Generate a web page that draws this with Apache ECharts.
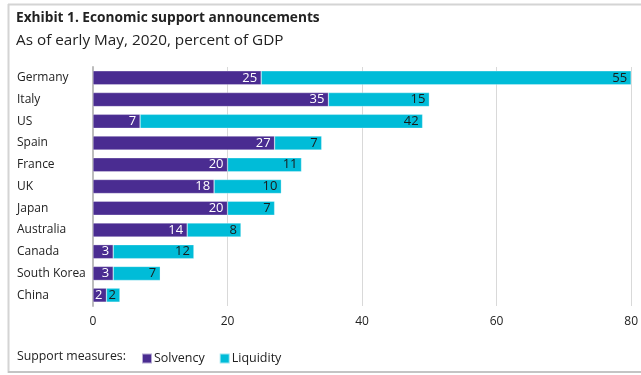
<!DOCTYPE html>
<html>
<head>
<meta charset="utf-8">
<script src="https://cdn.jsdelivr.net/npm/echarts@6/dist/echarts.min.js"></script>
<style>
  html, body { margin: 0; padding: 0; background: #fff; }
  #chart { width: 641px; height: 375px; }
</style>
</head>
<body>
<div id="chart"></div>
<script>
// Economic support announcements by country, percent of GDP
const countries = ['Germany', 'Italy', 'US', 'Spain', 'France', 'UK', 'Japan', 'Australia', 'Canada', 'South Korea', 'China'];
const solvency  = [25, 35, 7, 27, 20, 18, 20, 14, 3, 3, 2];
const liquidity = [55, 15, 42, 7, 11, 10, 7, 8, 12, 7, 2];
const xTicks = [0, 20, 40, 60, 80];

const PURPLE = '#4a2c91';
const CYAN = '#00bcd8';
const FONT = '"Open Sans", "Noto Sans", sans-serif';

const chart = echarts.init(document.getElementById('chart'), null, { renderer: 'canvas' });

chart.setOption({
  animation: false,
  textStyle: { fontFamily: FONT },
  graphic: [
    { type: 'line', shape: { x1: 8.5, y1: 4, x2: 8.5, y2: 373 }, style: { stroke: '#d4d4d4', lineWidth: 2 } },
    { type: 'line', shape: { x1: 8, y1: 4.5, x2: 641, y2: 4.5 }, style: { stroke: '#d4d4d4', lineWidth: 2 } },
    { type: 'line', shape: { x1: 8, y1: 372, x2: 641, y2: 372 }, style: { stroke: '#c4c4c4', lineWidth: 2 } },
    { type: 'text', left: 16, top: 11, style: { text: 'Exhibit 1. Economic support announcements', font: 'bold 13.7px ' + FONT, fill: '#222' } },
    { type: 'text', left: 16, top: 33, style: { text: 'As of early May, 2020, percent of GDP', font: '15.3px ' + FONT, fill: '#222' } },
    { type: 'text', left: 17, top: 350, style: { text: 'Support measures:', font: '12.3px ' + FONT, fill: '#222' } }
  ],
  legend: {
    left: 136,
    top: 347,
    itemWidth: 10,
    itemHeight: 10,
    itemGap: 14,
    icon: 'rect',
    textStyle: { fontFamily: FONT, fontSize: 12.5, color: '#222', padding: [0, 0, 0, -3] },
    data: ['Solvency', 'Liquidity']
  },
  grid: { left: 93, right: 9, top: 67, bottom: 69, containLabel: false },
  xAxis: {
    type: 'value',
    min: xTicks[0],
    max: xTicks[xTicks.length - 1],
    interval: 20,
    axisLine: { show: false },
    axisTick: { show: false },
    splitLine: { show: true, lineStyle: { color: '#d9d9d9', width: 1 } },
    axisLabel: { fontFamily: FONT, fontSize: 12, color: '#222', margin: 10 }
  },
  yAxis: {
    type: 'category',
    data: countries,
    inverse: true,
    axisLine: { show: true, lineStyle: { color: '#bdbdbd', width: 2 } },
    axisTick: { show: false },
    axisLabel: { fontFamily: FONT, fontSize: 12, color: '#222', align: 'left', margin: 76 }
  },
  series: [
    {
      name: 'Solvency',
      type: 'bar',
      stack: 'total',
      data: solvency,
      barWidth: 14,
      itemStyle: { color: PURPLE, borderColor: 'rgba(255,255,255,0.6)', borderWidth: 0.5 },
      label: { show: true, position: 'insideRight', distance: 4, color: '#fff', fontFamily: FONT, fontSize: 13 }
    },
    {
      name: 'Liquidity',
      type: 'bar',
      stack: 'total',
      data: liquidity,
      barWidth: 14,
      itemStyle: { color: CYAN, borderColor: 'rgba(255,255,255,0.6)', borderWidth: 0.5 },
      label: { show: true, position: 'insideRight', distance: 4, color: '#1a1a1a', fontFamily: FONT, fontSize: 13 }
    }
  ]
});
</script>
</body>
</html>
